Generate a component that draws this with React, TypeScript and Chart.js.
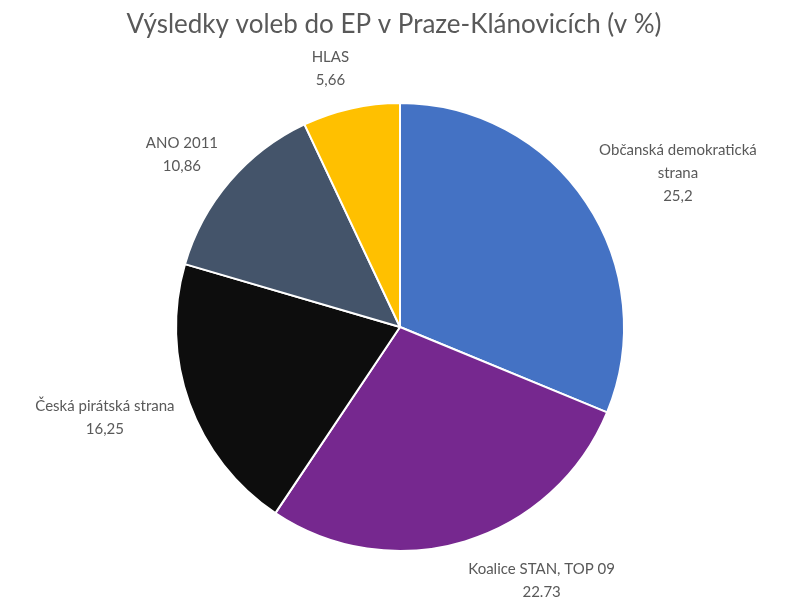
import React, { useEffect, useRef } from "react";
import { Chart, registerables } from "chart.js";

Chart.register(...registerables);

const title = "Výsledky voleb do EP v Praze-Klánovicích (v %)";
const categories = [
  ["Občanská demokratická", "strana"],
  ["Koalice STAN, TOP 09"],
  ["Česká pirátská strana"],
  ["ANO 2011"],
  ["HLAS"],
];
const values = [25.2, 22.73, 16.25, 10.86, 5.66];
const valueLabels = ["25,2", "22.73", "16,25", "10,86", "5,66"];
const colors = ["#4472C4", "#76288F", "#0D0D0D", "#44546A", "#FFC000"];

const FONT = "Lato, 'Open Sans', sans-serif";
const TEXT = "#595959";

const labelPlugin = {
  id: "outsideLabels",
  afterDraw(chart: any) {
    const ctx = chart.ctx;
    ctx.save();
    // title
    ctx.fillStyle = TEXT;
    ctx.font = `26px ${FONT}`;
    ctx.textAlign = "center";
    ctx.textBaseline = "middle";
    ctx.fillText(title, 394, 25);

    const meta = chart.getDatasetMeta(0);
    ctx.font = `15px ${FONT}`;
    const lh = 23;
    meta.data.forEach((arc: any, i: number) => {
      const p = arc.getProps(["x", "y", "startAngle", "endAngle", "outerRadius"], true);
      const mid = (p.startAngle + p.endAngle) / 2;
      const r = p.outerRadius + 18;
      const ax = p.x + Math.cos(mid) * r;
      const ay = p.y + Math.sin(mid) * r;
      const lines = [...categories[i], valueLabels[i]];
      const w = Math.max(...lines.map((l) => ctx.measureText(l).width));
      const h = lines.length * lh;
      const cx = ax + (Math.cos(mid) >= 0 ? 1 : -1) * (w / 2 - 2);
      const cy = ay + Math.sin(mid) * (h / 2);
      lines.forEach((l, k) => {
        ctx.fillText(l, cx, cy - h / 2 + lh / 2 + k * lh);
      });
    });
    ctx.restore();
  },
};

export default function App() {
  const ref = useRef<HTMLCanvasElement>(null);
  useEffect(() => {
    if (!ref.current) return;
    const chart = new Chart(ref.current, {
      type: "pie",
      data: {
        labels: categories.map((c) => c.join(" ")),
        datasets: [
          {
            data: values,
            backgroundColor: colors,
            borderColor: "#ffffff",
            borderWidth: 2,
          },
        ],
      },
      options: {
        responsive: false,
        animation: false,
        layout: { padding: { left: 175, right: 161, top: 102, bottom: 45 } },
        plugins: {
          legend: { display: false },
          title: { display: false },
          tooltip: { enabled: false },
        },
      },
      plugins: [labelPlugin],
    });
    return () => chart.destroy();
  }, []);
  return (
    <div style={{ position: "fixed", left: 0, top: 0, width: 786, height: 597, background: "#fff" }}>
      <canvas ref={ref} width={786} height={597} />
    </div>
  );
}
